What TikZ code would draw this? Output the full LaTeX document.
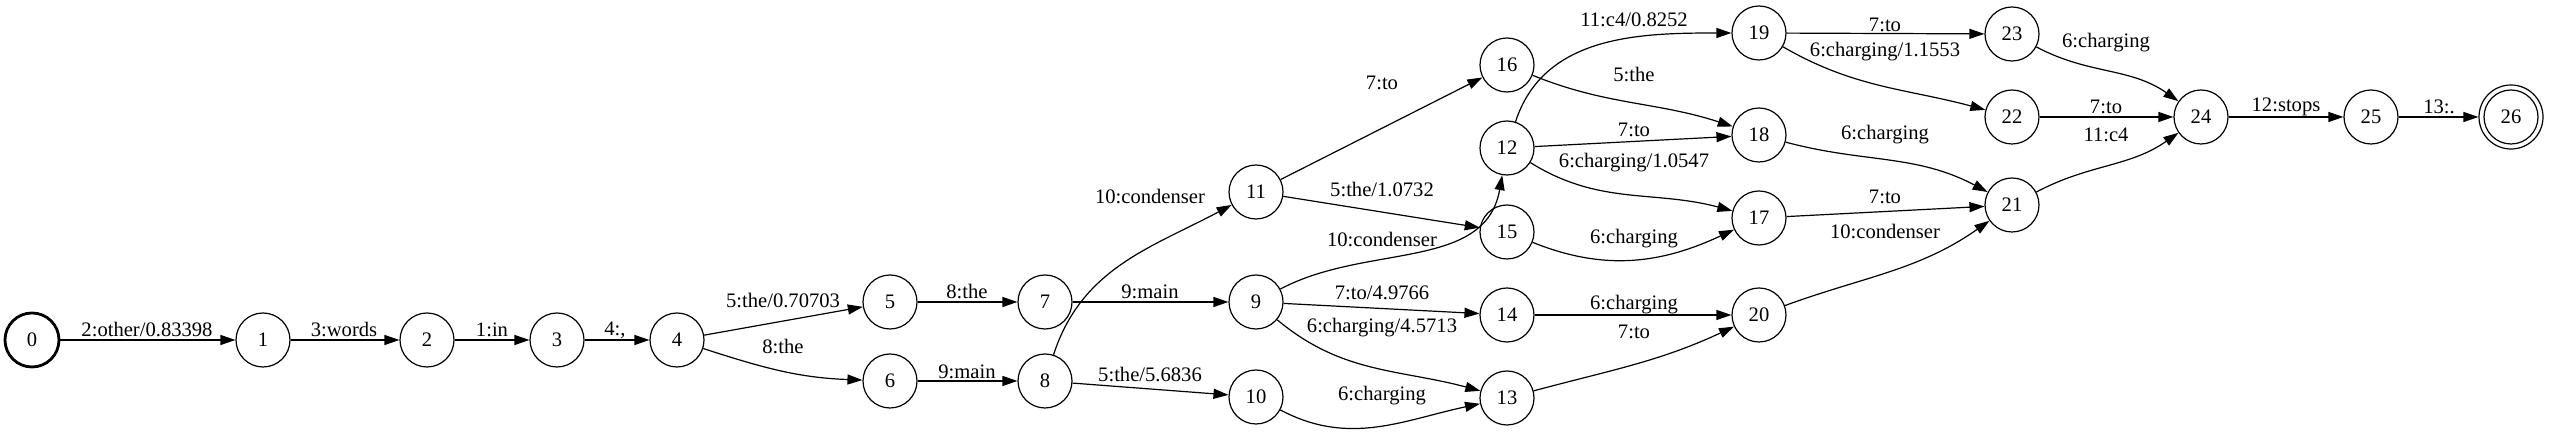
\documentclass[tikz,border=0pt]{standalone}
\usepackage{fontspec}
\setmainfont{Liberation Serif}
\usetikzlibrary{arrows.meta}
\tikzset{
  st/.style={circle, draw, line width=0.6pt, minimum size=27pt, inner sep=0pt, font=\fontsize{10.3}{12}\selectfont},
  ed/.style={draw, line width=0.6pt, -{Triangle[length=7.5pt,width=5pt]}},
  lb/.style={font=\fontsize{10.3}{12}\selectfont, inner sep=0pt},
}
\begin{document}
\begin{tikzpicture}[x=0.5pt,y=0.5pt]
\useasboundingbox (0,0) rectangle (2550,432);
\node[st, line width=1.4pt] (n0) at (32,92) {0};
\node[st] (n1) at (263,92) {1};
\node[st] (n2) at (427,92) {2};
\node[st] (n3) at (557,92) {3};
\node[st] (n4) at (677,92) {4};
\node[st] (n5) at (890,130) {5};
\node[st] (n6) at (890,51) {6};
\node[st] (n7) at (1045,130) {7};
\node[st] (n8) at (1045,51) {8};
\node[st] (n9) at (1256,130) {9};
\node[st] (n10) at (1256,35) {10};
\node[st] (n11) at (1256,240) {11};
\node[st] (n12) at (1507,284) {12};
\node[st] (n13) at (1507,34) {13};
\node[st] (n14) at (1507,117) {14};
\node[st] (n15) at (1507,200) {15};
\node[st] (n16) at (1507,367) {16};
\node[st] (n17) at (1759,214) {17};
\node[st] (n18) at (1759,297) {18};
\node[st] (n19) at (1759,399) {19};
\node[st] (n20) at (1759,117) {20};
\node[st] (n21) at (2012,227) {21};
\node[st] (n22) at (2012,315) {22};
\node[st] (n23) at (2012,398) {23};
\node[st] (n24) at (2201,315) {24};
\node[st] (n25) at (2371,315) {25};
\node[st, minimum size=32pt] (n26) at (2511,315) {26};
\draw[line width=0.6pt] (n26.center) circle[radius=13.5pt];

\draw[ed] (n0) -- (n1) node[lb] (l1) at (147,102) {2:other/0.83398};
\draw[ed] (n1) -- (n2) node[lb] (l2) at (344,102) {3:words};
\draw[ed] (n2) -- (n3) node[lb] (l3) at (492,102) {1:in};
\draw[ed] (n3) -- (n4) node[lb] (l4) at (615,102) {4:,};
\draw[ed] (n4) -- (n5) node[lb] (l5) at (783,131) {5:the/0.70703};
\draw[ed] (n4) to[out=-18,in=178] (n6) node[lb] (l6) at (783,85) {8:the};
\draw[ed] (n5) -- (n7) node[lb] (l7) at (967,140) {8:the};
\draw[ed] (n6) -- (n8) node[lb] (l8) at (967,60) {9:main};
\draw[ed] (n7) -- (n9) node[lb] (l9) at (1150,140) {9:main};
\draw[ed] (n8) to[out=72,in=-152] (n11) node[lb] (l10) at (1150,235) {10:condenser};
\draw[ed] (n8) -- (n10) node[lb] (l11) at (1150,57) {5:the/5.6836};
\draw[ed] (n9) to[out=28,in=-100] (n12) node[lb] (l12) at (1382,192) {10:condenser};
\draw[ed] (n9) -- (n14) node[lb] (l13) at (1382,139) {7:to/4.9766};
\draw[ed] (n9) to[out=-40,in=165] (n13) node[lb] (l14) at (1382,104) {6:charging/4.5713};
\draw[ed] (n10) to[out=-28,in=-168] (n13) node[lb] (l15) at (1382,36) {6:charging};
\draw[ed] (n11) -- (n16) node[lb] (l16) at (1382,349) {7:to};
\draw[ed] (n11) -- (n15) node[lb] (l17) at (1382,242) {5:the/1.0732};
\draw[ed] (n12) to[out=72,in=180] (n19) node[lb] (l18) at (1634,412) {11:c4/0.8252};
\draw[ed] (n16) to[out=-22,in=162] (n18) node[lb] (l19) at (1634,357) {5:the};
\draw[ed] (n12) -- (n18) node[lb] (l20) at (1634,302) {7:to};
\draw[ed] (n12) to[out=-32,in=165] (n17) node[lb] (l21) at (1634,269) {6:charging/1.0547};
\draw[ed] (n15) to[out=-22,in=-155] (n17) node[lb] (l22) at (1634,193) {6:charging};
\draw[ed] (n14) -- (n20) node[lb] (l23) at (1634,127) {6:charging};
\draw[ed] (n13) to[out=15,in=-155] (n20) node[lb] (l24) at (1634,100) {7:to};
\draw[ed] (n19) -- (n23) node[lb] (l25) at (1885,407) {7:to};
\draw[ed] (n19) to[out=-30,in=165] (n22) node[lb] (l26) at (1885,380) {6:charging/1.1553};
\draw[ed] (n18) to[out=-15,in=152] (n21) node[lb] (l27) at (1885,297) {6:charging};
\draw[ed] (n17) -- (n21) node[lb] (l28) at (1885,235) {7:to};
\draw[ed] (n20) to[out=20,in=-145] (n21) node[lb] (l29) at (1885,200) {10:condenser};
\draw[ed] (n23) to[out=-28,in=145] (n24) node[lb] (l30) at (2106,389) {6:charging};
\draw[ed] (n22) -- (n24) node[lb] (l31) at (2106,325) {7:to};
\draw[ed] (n21) to[out=28,in=-145] (n24) node[lb] (l32) at (2106,297) {11:c4};
\draw[ed] (n24) -- (n25) node[lb] (l33) at (2286,325) {12:stops};
\draw[ed] (n25) -- (n26) node[lb] (l34) at (2439,325) {13:.};
\end{tikzpicture}
\end{document}
